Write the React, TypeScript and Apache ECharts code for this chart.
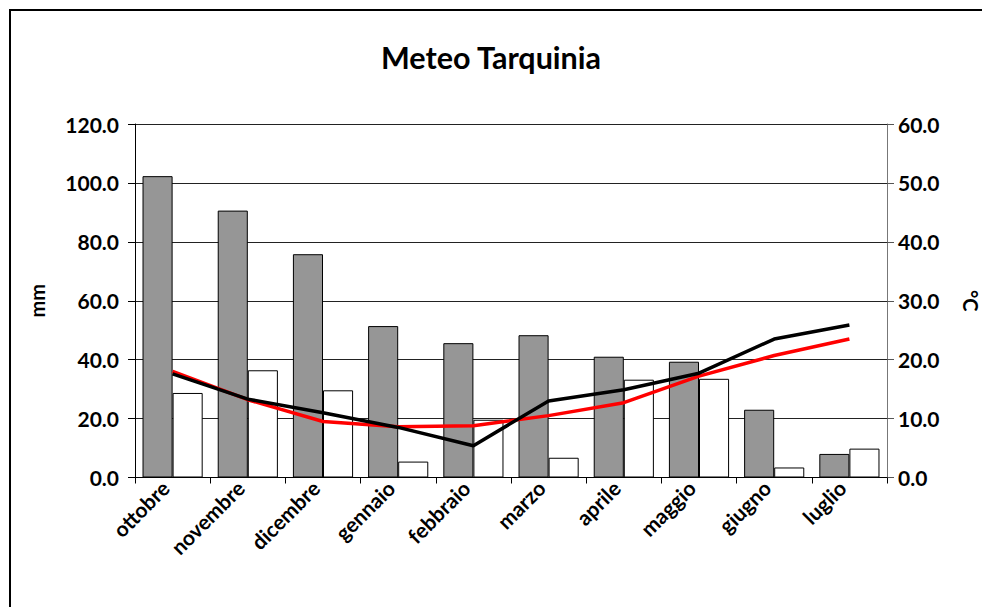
import React, { useEffect, useRef } from "react";
import * as echarts from "echarts";

const months = ["ottobre", "novembre", "dicembre", "gennaio", "febbraio", "marzo", "aprile", "maggio", "giugno", "luglio"];
const rainGray = [102.3, 90.6, 75.8, 51.4, 45.6, 48.3, 41.0, 39.3, 23.0, 8.0];
const rainWhite = [28.7, 36.4, 29.6, 5.4, 19.6, 6.7, 33.2, 33.5, 3.4, 9.8];
const tempBlack = [17.6, 13.3, 11.0, 8.5, 5.4, 13.0, 14.9, 17.7, 23.5, 25.9];
const tempRed = [18.0, 13.2, 9.5, 8.6, 8.8, 10.5, 12.7, 17.2, 20.7, 23.5];

const FONT = "Lato";

export default function App() {
  const ref = useRef<HTMLDivElement>(null);
  useEffect(() => {
    if (!ref.current) return;
    const chart = echarts.init(ref.current, null, { renderer: "svg" });
    const axisLabelStyle = { fontFamily: FONT, fontWeight: "bold" as const, fontSize: 21, color: "#000" };
    chart.setOption({
      animation: false,
      backgroundColor: "#fff",
      title: {
        text: "Meteo Tarquinia",
        left: "center",
        top: 36,
        textStyle: { fontFamily: FONT, fontWeight: "bold", fontSize: 30.5, color: "#000" },
      },
      graphic: [
        {
          type: "rect",
          shape: { x: 10, y: 10, width: 1000, height: 1000 },
          style: { fill: "none", stroke: "#000", lineWidth: 2 },
          silent: true,
        },
      ],
      grid: { left: 135, right: 95, top: 124, bottom: 129.5, containLabel: false, outerBoundsMode: "none" },
      xAxis: {
        type: "category",
        data: months,
        axisLine: { lineStyle: { color: "#000", width: 1 } },
        axisTick: { show: true, length: 6, lineStyle: { color: "#000" } },
        axisLabel: { ...axisLabelStyle, fontSize: 21, rotate: 45, margin: 14, interval: 0, verticalAlign: "bottom" },
      },
      yAxis: [
        {
          type: "value",
          min: 0,
          max: 120,
          interval: 20,
          name: "mm",
          nameLocation: "middle",
          nameGap: 88,
          nameRotate: 90,
          nameTextStyle: { ...axisLabelStyle, fontSize: 20 },
          axisLine: { show: true, lineStyle: { color: "#000" } },
          axisTick: { show: true, length: 7, lineStyle: { color: "#000" } },
          axisLabel: { ...axisLabelStyle, margin: 16, formatter: (v: number) => v.toFixed(1) },
          splitLine: { show: true, lineStyle: { color: "#222", width: 1 } },
        },
        {
          type: "value",
          min: 0,
          max: 60,
          interval: 10,
          name: "°C",
          nameLocation: "middle",
          nameGap: 74,
          nameRotate: -90,
          nameTextStyle: { ...axisLabelStyle, fontSize: 20 },
          axisLine: { show: true, lineStyle: { color: "#777" } },
          axisTick: { show: true, length: 7, lineStyle: { color: "#555" } },
          axisLabel: { ...axisLabelStyle, margin: 11, formatter: (v: number) => v.toFixed(1) },
          splitLine: { show: false },
        },
      ],
      series: [
        {
          type: "bar",
          data: rainGray,
          barGap: "0%",
          barCategoryGap: "20%",
          itemStyle: { color: "#969696", borderColor: "#000", borderWidth: 1 },
          z: 2,
        },
        {
          type: "bar",
          data: rainWhite,
          itemStyle: { color: "#fff", borderColor: "#000", borderWidth: 1 },
          z: 2,
        },
        {
          type: "line",
          yAxisIndex: 1,
          data: tempRed,
          showSymbol: false,
          symbol: "none",
          lineStyle: { color: "#ff0000", width: 3.5 },
          z: 4,
        },
        {
          type: "line",
          yAxisIndex: 1,
          data: tempBlack,
          showSymbol: false,
          symbol: "none",
          lineStyle: { color: "#000", width: 3.5 },
          z: 5,
        },
      ],
    });
    return () => chart.dispose();
  }, []);
  return <div ref={ref} style={{ width: 982, height: 607, position: "absolute", left: 0, top: 0 }} />;
}
